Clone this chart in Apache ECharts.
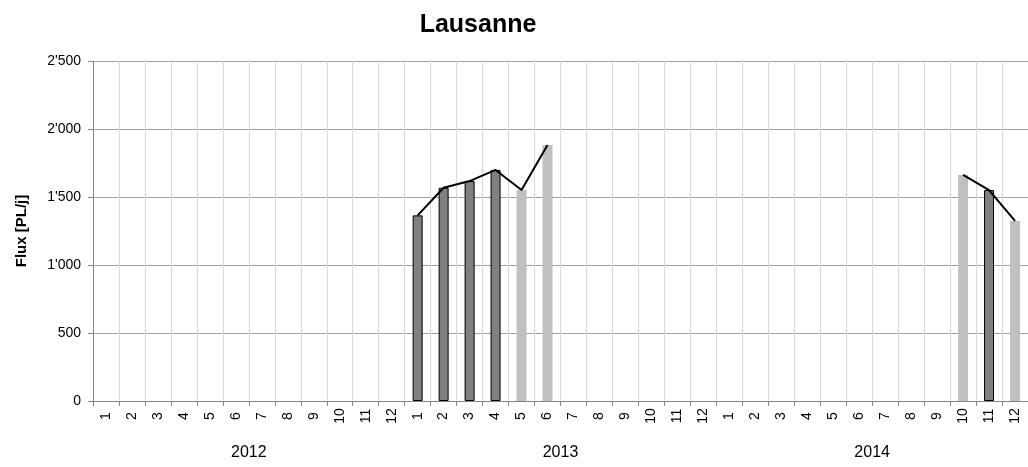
<!DOCTYPE html>
<html>
<head>
<meta charset="utf-8">
<script src="https://cdn.jsdelivr.net/npm/echarts@6/dist/echarts.min.js"></script>
<style>
  html, body { margin: 0; padding: 0; background: #fff; }
  #chart { width: 1028px; height: 467px; }
</style>
</head>
<body>
<div id="chart"></div>
<script>
// Monthly categories, three years
const years = ['2012', '2013', '2014'];
const months = [];
years.forEach(() => { for (let m = 1; m <= 12; m++) months.push(String(m)); });

// Measured months (dark bars)
const measured = [
  null, null, null, null, null, null, null, null, null, null, null, null,
  1365, 1568, 1617, 1699, null, null, null, null, null, null, null, null,
  null, null, null, null, null, null, null, null, null, null, 1551, null
];
// Estimated months (light bars)
const estimated = [
  null, null, null, null, null, null, null, null, null, null, null, null,
  null, null, null, null, 1551, 1882, null, null, null, null, null, null,
  null, null, null, null, null, null, null, null, null, 1662, null, 1324
];
// Trend line over all available months
const trend = [
  null, null, null, null, null, null, null, null, null, null, null, null,
  1365, 1568, 1617, 1699, 1551, 1882, null, null, null, null, null, null,
  null, null, null, null, null, null, null, null, null, 1662, 1551, 1324
];

const FONT = '"Liberation Sans", Arial, sans-serif';

function fmtThousands(v) {
  return String(v).replace(/\B(?=(\d{3})+(?!\d))/g, "'");
}

const chart = echarts.init(document.getElementById('chart'), null, { renderer: 'canvas' });
chart.setOption({
  animation: false,
  backgroundColor: '#ffffff',
  title: {
    text: 'Lausanne',
    left: 473,
    top: 8,
    textAlign: 'center',
    textStyle: { fontFamily: FONT, fontSize: 25, fontWeight: 'bold', color: '#000' }
  },
  grid: { left: 93, top: 61, width: 936, height: 340, containLabel: false },
  xAxis: [
    {
      type: 'category',
      data: months,
      boundaryGap: true,
      axisLine: { show: true, lineStyle: { color: '#868686', width: 1 } },
      axisTick: { show: true, interval: 0, length: 5, lineStyle: { color: '#868686' } },
      axisLabel: {
        interval: 0, rotate: 90, align: 'center', margin: 15,
        fontFamily: FONT, fontSize: 14, color: '#000'
      },
      splitLine: { show: true, interval: 0, lineStyle: { color: '#d9d9d9', width: 1 } }
    },
    {
      type: 'category',
      data: years,
      position: 'bottom',
      offset: 40,
      boundaryGap: true,
      axisLine: { show: false },
      axisTick: { show: false },
      axisLabel: { interval: 0, fontFamily: FONT, fontSize: 16, color: '#000', margin: 4 },
      splitLine: { show: false }
    }
  ],
  yAxis: {
    type: 'value',
    min: 0,
    max: 2500,
    interval: 500,
    name: 'Flux [PL/j]',
    nameLocation: 'middle',
    nameRotate: 90,
    nameGap: 64,
    nameTextStyle: { fontFamily: FONT, fontSize: 15, fontWeight: 'bold', color: '#000' },
    axisLine: { show: true, lineStyle: { color: '#868686', width: 1 } },
    axisTick: { show: true, length: 5, lineStyle: { color: '#868686' } },
    axisLabel: {
      fontFamily: FONT, fontSize: 14, color: '#000', margin: 12,
      formatter: fmtThousands
    },
    splitLine: { show: true, lineStyle: { color: '#a0a0a0', width: 1 } }
  },
  series: [
    {
      name: 'measured',
      type: 'bar',
      data: measured,
      barWidth: 10,
      barGap: '-100%',
      itemStyle: { color: '#808080', borderColor: '#000000', borderWidth: 1 },
      z: 3
    },
    {
      name: 'estimated',
      type: 'bar',
      data: estimated,
      barWidth: 10,
      barGap: '-100%',
      itemStyle: { color: '#c0c0c0' },
      z: 2
    },
    {
      name: 'trend',
      type: 'line',
      data: trend,
      connectNulls: false,
      showSymbol: false,
      symbol: 'none',
      lineStyle: { color: '#000000', width: 2 },
      z: 5
    }
  ]
});
</script>
</body>
</html>
